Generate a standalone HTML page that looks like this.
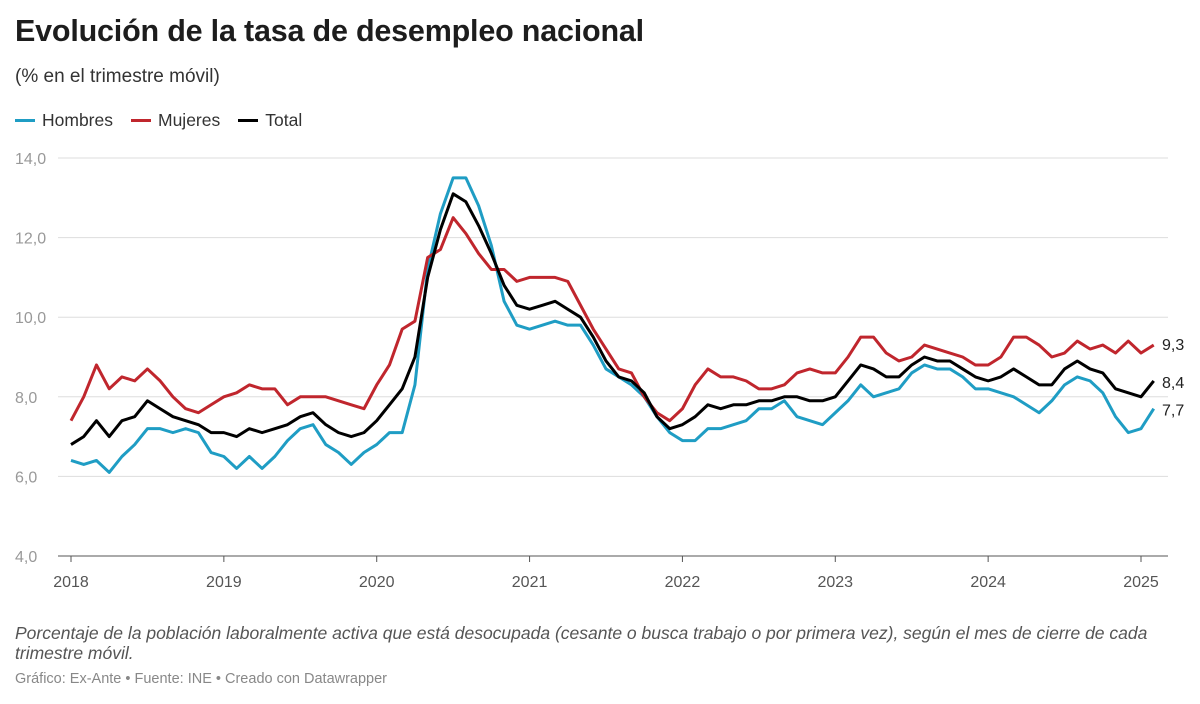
<!DOCTYPE html>
<html><head><meta charset="utf-8"><style>
body{margin:0;background:#fff;font-family:"Liberation Sans",sans-serif;width:1200px;height:704px;overflow:hidden;position:relative}
.t{position:absolute;left:15px;top:14px;font-size:30.5px;font-weight:bold;color:#1d1d1d;letter-spacing:-0.2px}
.s{position:absolute;left:15px;top:66px;font-size:19px;color:#333}
.lg{position:absolute;top:110px;left:15px;font-size:17.5px;color:#333;display:flex;gap:18px}
.lg span{display:flex;align-items:center}
.lg i{display:inline-block;width:20px;height:3px;margin-right:7px}
.n{position:absolute;left:15px;top:623px;font-size:17.5px;font-style:italic;color:#555;line-height:20px;width:1180px}
.c{position:absolute;left:15px;top:671px;font-size:14.5px;color:#888}
</style></head><body>
<div class="t">Evolución de la tasa de desempleo nacional</div>
<div class="s">(% en el trimestre móvil)</div>
<div class="lg">
<span><i style="background:#1f9dc4"></i>Hombres</span>
<span><i style="background:#c0262d"></i>Mujeres</span>
<span><i style="background:#000"></i>Total</span>
</div>
<svg id="ch" width="1200" height="704" style="position:absolute;left:0;top:0"></svg>
<div class="n">Porcentaje de la población laboralmente activa que está desocupada (cesante o busca trabajo o por primera vez), según el mes de cierre de cada trimestre móvil.</div>
<div class="c">Gráfico: Ex-Ante • Fuente: INE • Creado con Datawrapper</div>
<script>
const years=[2018,2019,2020,2021,2022,2023,2024,2025];
const yTicks=[4,6,8,10,12,14];
const hombres=[6.4,6.3,6.4,6.1,6.5,6.8,7.2,7.2,7.1,7.2,7.1,6.6,6.5,6.2,6.5,6.2,6.5,6.9,7.2,7.3,6.8,6.6,6.3,6.6,6.8,7.1,7.1,8.3,11.2,12.6,13.5,13.5,12.8,11.8,10.4,9.8,9.7,9.8,9.9,9.8,9.8,9.3,8.7,8.5,8.3,8.0,7.5,7.1,6.9,6.9,7.2,7.2,7.3,7.4,7.7,7.7,7.9,7.5,7.4,7.3,7.6,7.9,8.3,8.0,8.1,8.2,8.6,8.8,8.7,8.7,8.5,8.2,8.2,8.1,8.0,7.8,7.6,7.9,8.3,8.5,8.4,8.1,7.5,7.1,7.2,7.7];
const mujeres=[7.4,8.0,8.8,8.2,8.5,8.4,8.7,8.4,8.0,7.7,7.6,7.8,8.0,8.1,8.3,8.2,8.2,7.8,8.0,8.0,8.0,7.9,7.8,7.7,8.3,8.8,9.7,9.9,11.5,11.7,12.5,12.1,11.6,11.2,11.2,10.9,11.0,11.0,11.0,10.9,10.3,9.7,9.2,8.7,8.6,8.0,7.6,7.4,7.7,8.3,8.7,8.5,8.5,8.4,8.2,8.2,8.3,8.6,8.7,8.6,8.6,9.0,9.5,9.5,9.1,8.9,9.0,9.3,9.2,9.1,9.0,8.8,8.8,9.0,9.5,9.5,9.3,9.0,9.1,9.4,9.2,9.3,9.1,9.4,9.1,9.3];
const total=[6.8,7.0,7.4,7.0,7.4,7.5,7.9,7.7,7.5,7.4,7.3,7.1,7.1,7.0,7.2,7.1,7.2,7.3,7.5,7.6,7.3,7.1,7.0,7.1,7.4,7.8,8.2,9.0,11.0,12.2,13.1,12.9,12.3,11.6,10.8,10.3,10.2,10.3,10.4,10.2,10.0,9.5,8.9,8.5,8.4,8.1,7.5,7.2,7.3,7.5,7.8,7.7,7.8,7.8,7.9,7.9,8.0,8.0,7.9,7.9,8.0,8.4,8.8,8.7,8.5,8.5,8.8,9.0,8.9,8.9,8.7,8.5,8.4,8.5,8.7,8.5,8.3,8.3,8.7,8.9,8.7,8.6,8.2,8.1,8.0,8.4];
const NS='http://www.w3.org/2000/svg',svg=document.getElementById('ch');
const x=i=>71+i*(1141-71)/84;
const y=v=>556-(v-4)*(556-158)/10;
function mk(t,a){const e=document.createElementNS(NS,t);for(const k in a)e.setAttribute(k,a[k]);svg.appendChild(e);return e;}
yTicks.forEach(v=>{
 const g=mk('line',{x1:58,x2:1168,y1:y(v),y2:y(v),stroke:v==4?'#555':'#ddd','stroke-width':1});
 
 
 const t=mk('text',{x:15,y:y(v)+6,fill:'#999','font-size':16,'font-family':'Liberation Sans'});
 t.textContent=v.toFixed(1).replace('.',',');
 
 
});
years.forEach((yr,k)=>{
 const xi=x(k*12);
 const l=mk('line',{x1:xi,x2:xi,y1:556,y2:562,stroke:'#555'});
 
 
 const t=mk('text',{x:xi,y:587,fill:'#555','font-size':16,'text-anchor':'middle','font-family':'Liberation Sans'});
 t.textContent=yr;
 
 
});
[[hombres,'#1f9dc4','hombres-line'],[mujeres,'#c0262d','mujeres-line'],[total,'#000','total-line']].forEach(([d,c,n])=>{
 const p=mk('polyline',{points:d.map((v,i)=>x(i)+','+y(v)).join(' '),fill:'none',stroke:c,'stroke-width':3,'stroke-linejoin':'round'});
 
 
});
[[mujeres,-1],[total,1],[hombres,1]].forEach(([d,o])=>{
 const v=d[d.length-1];
 const t=mk('text',{x:1162,y:y(v)+6+o,fill:'#222','font-size':16,'font-family':'Liberation Sans'});
 t.textContent=v.toFixed(1).replace('.',',');
 
 
});
</script>
</body></html>
